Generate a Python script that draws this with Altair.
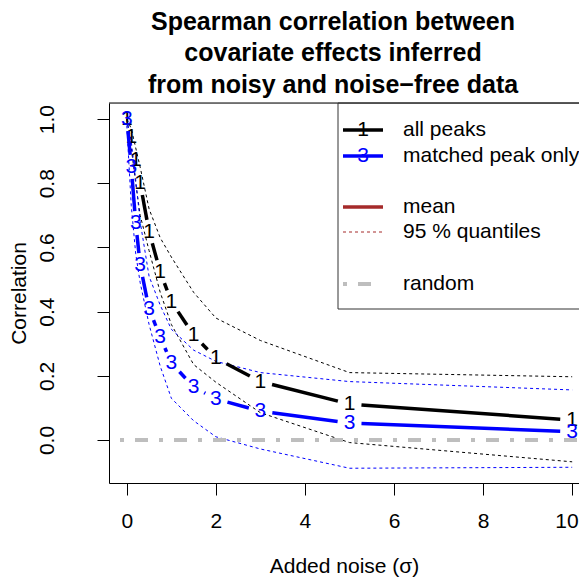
import altair as alt
import pandas as pd
import numpy as np

# ---------------- data ----------------
noise = [0, 0.1, 0.2, 0.3, 0.5, 0.75, 1, 1.5, 2, 3, 5, 10]
all_mean = [1.0, 0.945, 0.872, 0.80, 0.649, 0.524, 0.431, 0.327, 0.255, 0.182, 0.112, 0.062]
all_hi = [1.0, 0.97, 0.91, 0.85, 0.72, 0.63, 0.57, 0.46, 0.38, 0.31, 0.21, 0.197]
all_lo = [1.0, 0.91, 0.80, 0.70, 0.59, 0.46, 0.36, 0.235, 0.18, 0.085, -0.008, -0.068]
matched_mean = [1.0, 0.851, 0.676, 0.545, 0.408, 0.321, 0.240, 0.165, 0.128, 0.090, 0.053, 0.026]
matched_hi = [1.0, 0.93, 0.81, 0.68, 0.51, 0.42, 0.345, 0.28, 0.245, 0.21, 0.182, 0.156]
matched_lo = [0.98, 0.73, 0.58, 0.49, 0.36, 0.23, 0.13, 0.06, 0.01, -0.028, -0.088, -0.085]

x_ticks = [0, 2, 4, 6, 8, 10]
y_ticks = [0.0, 0.2, 0.4, 0.6, 0.8, 1.0]

title_lines = ["Spearman correlation between",
               "covariate effects inferred",
               "from noisy and noise\u2212free data"]

legend_labels = ["all peaks", "matched peak only", "mean", "95 % quantiles", "random"]

# ---------------- layout ----------------
W, H = 470, 380
XDOM = [-0.4, 10.153]
YDOM = [-0.134, 1.050]
FONT = "Liberation Sans"
FS = 21
GAP = 12  # px gap around plotted characters (R type = "b")
RANDOM_DASH = [4, 11, 13, 11]

xs = alt.Scale(domain=XDOM, nice=False, zero=False)
ys = alt.Scale(domain=YDOM, nice=False, zero=False)

sx = W / (XDOM[1] - XDOM[0])
sy = H / (YDOM[1] - YDOM[0])

x_axis = alt.Axis(values=x_ticks, grid=False, domainColor="black", tickColor="black",
                  tickSize=12, labelFontSize=FS, labelFont=FONT, labelColor="black",
                  labelPadding=15, titleFontSize=FS, titleFont=FONT,
                  titleFontWeight="normal", titleColor="black",
                  titleBaseline="middle", titleY=83, labelFlush=8, labelFlushOffset=6)
y_axis = alt.Axis(values=y_ticks, format=".1f", grid=False, domainColor="black",
                  tickColor="black", tickSize=12, labelFontSize=FS, labelFont=FONT,
                  labelColor="black", labelAngle=270, labelAlign="center",
                  labelBaseline="bottom", labelPadding=40, labelOverlap=False,
                  labelFlush=False, titleFontSize=FS, titleFont=FONT,
                  titleFontWeight="normal", titleColor="black",
                  titleBaseline="middle", titleX=-90, titleY=H / 2, titleAngle=270)
XT = "Added noise (\u03c3)"
YT = "Correlation"


def X(f="x"):
    return alt.X(f + ":Q", scale=xs, axis=x_axis, title=XT)


def Y(f="y"):
    return alt.Y(f + ":Q", scale=ys, axis=y_axis, title=YT)


def gapped_segments(xv, yv, name):
    rows = []
    for i in range(len(xv) - 1):
        x0, y0, x1, y1 = xv[i], yv[i], xv[i + 1], yv[i + 1]
        dxp, dyp = (x1 - x0) * sx, (y1 - y0) * sy
        d = float(np.hypot(dxp, dyp))
        if d <= 2 * GAP:
            continue
        f = GAP / d
        rows.append(dict(series=name,
                         x=x0 + (x1 - x0) * f, y=y0 + (y1 - y0) * f,
                         x2=x1 - (x1 - x0) * f, y2=y1 - (y1 - y0) * f))
    return rows


seg_all = pd.DataFrame(gapped_segments(noise, all_mean, "all"))
seg_matched = pd.DataFrame(gapped_segments(noise, matched_mean, "matched"))

pts_all = pd.DataFrame({"x": noise, "y": all_mean})
pts_matched = pd.DataFrame({"x": noise, "y": matched_mean})

q_rows = []
for name, hi, lo in [("all", all_hi, all_lo), ("matched", matched_hi, matched_lo)]:
    for b, arr in [("hi", hi), ("lo", lo)]:
        for xv, yv in zip(noise, arr):
            q_rows.append(dict(series=name, bound=b, key=name + b, x=xv, y=yv))
quant = pd.DataFrame(q_rows)

one = pd.DataFrame({"a": [0]})

top_line = alt.Chart(one).mark_rule(color="black", strokeWidth=1).encode(
    x=alt.value(0), x2=alt.value(W), y=alt.value(0))

quant_lines = alt.Chart(quant).mark_line(strokeWidth=1, strokeDash=[3, 3]).encode(
    x=X(), y=Y(), detail="key:N",
    color=alt.Color("series:N", scale=alt.Scale(domain=["all", "matched"],
                                                 range=["black", "blue"]), legend=None))

random_line = alt.Chart(one).mark_rule(
    color="#BEBEBE", strokeWidth=4, strokeDash=RANDOM_DASH, strokeDashOffset=28).encode(
    x=alt.value(0), x2=alt.value(W), y=alt.Y(datum=0, scale=ys, axis=y_axis, title=YT))


def seg_layer(df, col):
    return alt.Chart(df).mark_rule(color=col, strokeWidth=3.5, strokeCap="butt").encode(
        x=X(), x2="x2:Q", y=Y(), y2="y2:Q")


def lab_layer(df, ch, col):
    return alt.Chart(df).mark_text(text=ch, color=col, fontSize=FS, font=FONT,
                                   baseline="middle", align="center").encode(x=X(), y=Y())


# title (decoration, three centred lines)
TX = 224
title_layers = [
    alt.Chart(one).mark_text(text=t, fontSize=25, fontWeight="bold", font=FONT,
                             color="black", align="center", baseline="middle").encode(
        x=alt.value(TX), y=alt.value(yv))
    for t, yv in zip(title_lines, [-81, -50, -18])
]

# legend (decoration)
LX0, LX1, LT = 234, 274, 294
rows_y = [27, 53, 104, 129, 181]
leg_box = alt.Chart(one).mark_rect(fill=None, stroke="#333333", strokeWidth=1).encode(
    x=alt.value(229), x2=alt.value(W + 30), y=alt.value(0), y2=alt.value(206))


def leg_line(yv, col, sw, dash=None, x2=LX1):
    kw = dict(color=col, strokeWidth=sw, strokeCap="butt")
    if dash:
        kw["strokeDash"] = dash
    return alt.Chart(one).mark_rule(**kw).encode(
        x=alt.value(LX0), x2=alt.value(x2), y=alt.value(yv))


def leg_text(yv, txt, col="black", xv=LT, align="left"):
    return alt.Chart(one).mark_text(
        text=txt, color=col, fontSize=FS, font=FONT, align=align, baseline="middle").encode(
        x=alt.value(xv), y=alt.value(yv))


MID = (LX0 + LX1) / 2
legend_layers = [
    leg_box,
    leg_line(rows_y[0], "black", 3.5), leg_text(rows_y[0], "1", "black", MID, "center"),
    leg_text(rows_y[0], legend_labels[0]),
    leg_line(rows_y[1], "blue", 3.5), leg_text(rows_y[1], "3", "blue", MID, "center"),
    leg_text(rows_y[1], legend_labels[1]),
    leg_line(rows_y[2], "#A52A2A", 3.5), leg_text(rows_y[2], legend_labels[2]),
    leg_line(rows_y[3], "#A52A2A", 1, [3, 3]), leg_text(rows_y[3], legend_labels[3]),
    leg_line(rows_y[4], "#BEBEBE", 4, RANDOM_DASH, LX0 + 28), leg_text(rows_y[4], legend_labels[4]),
]

chart = alt.layer(
    top_line, quant_lines, random_line,
    seg_layer(seg_all, "black"), lab_layer(pts_all, "1", "black"),
    seg_layer(seg_matched, "blue"), lab_layer(pts_matched, "3", "blue"),
    *title_layers, *legend_layers
).properties(
    width=W, height=H,
    padding={"left": 101, "top": 95, "right": 0, "bottom": 96},
    autosize=alt.AutoSizeParams(type="none"),
).configure_view(stroke=None).configure(background="white")

chart.save("out.html", embed_options={"renderer": "svg", "actions": False})
